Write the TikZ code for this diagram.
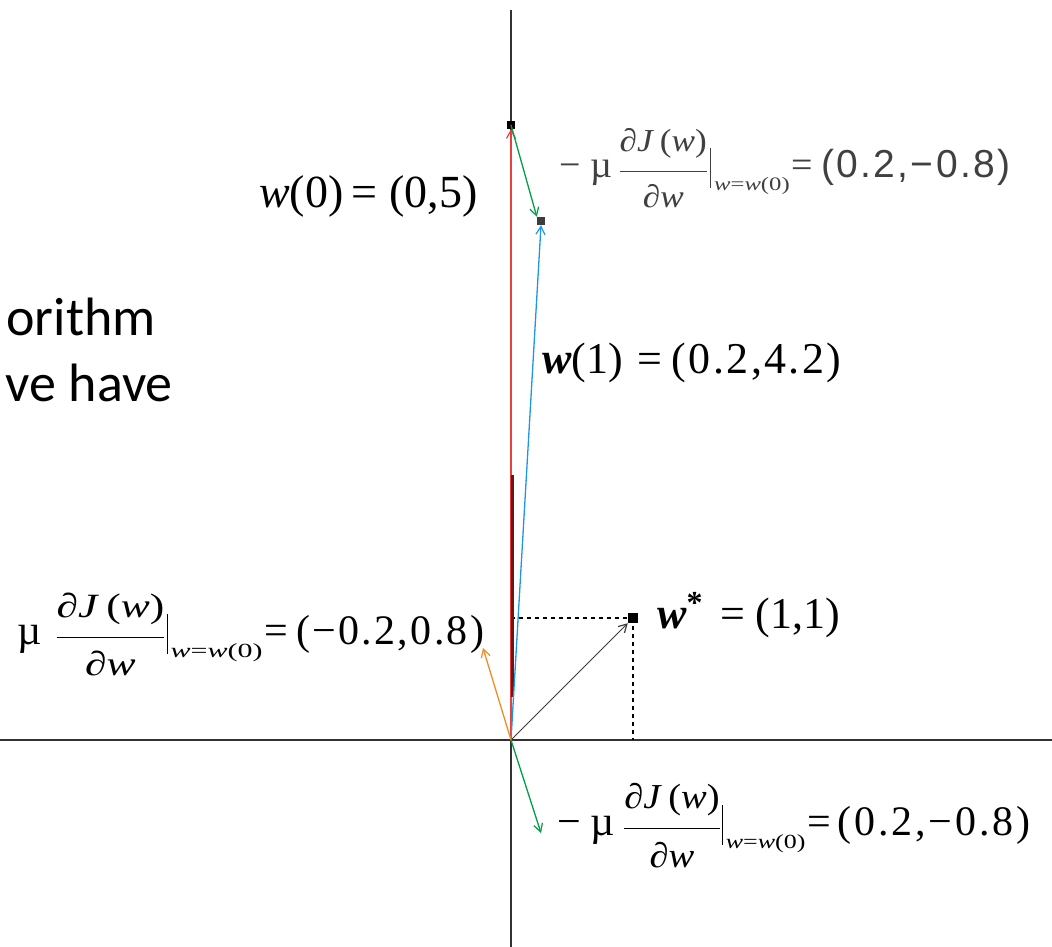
\documentclass[tikz,border=0pt]{standalone}
\usepackage{amsmath}
\usepackage{graphicx}
\usepackage{fontspec}
\setmainfont{Liberation Serif}
\newfontfamily\slidefont{Carlito}
\newfontfamily\thinfont[LetterSpace=6]{Liberation Sans}
\newfontfamily\spacedfont[LetterSpace=5.5]{Liberation Serif}
\newfontfamily\widefont[LetterSpace=7]{Liberation Serif}
\usetikzlibrary{arrows.meta}
\definecolor{axisgray}{RGB}{50,50,50}
\definecolor{vred}{RGB}{232,64,60}
\definecolor{vblue}{RGB}{30,150,230}
\definecolor{vgreen}{RGB}{0,160,70}
\definecolor{vorange}{RGB}{240,140,40}
\definecolor{vdark}{RGB}{60,60,60}
\definecolor{vdeep}{RGB}{110,20,20}
% fraction dJ(w)/dw : #1 font size, #2 horizontal stretch
\newcommand\myfr[2]{\ensuremath{\genfrac{}{}{1pt}{0}%
  {\scalebox{#2}[1]{\fontsize{#1}{#1}\selectfont ∂\textit{J}\,(\textit{w})}\rule[-17pt]{0pt}{1pt}}%
  {\rule{0pt}{#1pt}\scalebox{#2}[1]{\fontsize{#1}{#1}\selectfont ∂\textit{w}}}}}
\newcommand\mybar{\raisebox{-10pt}{\rule{1pt}{40pt}}}
\newcommand\mysub[2]{\raisebox{-13pt}{\scalebox{#2}[1]{\fontsize{#1}{#1}\selectfont\textit{w}=\textit{w}(0)}}}
\tikzset{
  axisline/.style={draw=axisgray, line width=1.6pt},
  vec/.style={line width=1.3pt, -{Straight Barb[length=8pt,width=9pt,line width=1.2pt]}},
  guide/.style={draw=black, line width=1.2pt, dash pattern=on 4pt off 4pt},
  lab/.style={inner sep=0pt, anchor=base west, font=\fontsize{44}{50}\selectfont},
  glab/.style={inner sep=0pt, anchor=base west, font=\fontsize{42}{48}\selectfont},
  slide/.style={inner sep=0pt, font=\slidefont\fontsize{54}{60}\selectfont},
  marker/.style={fill=black, minimum size=9pt, inner sep=0pt}
}
\begin{document}
\begin{tikzpicture}[x=1pt,y=-1pt]
\useasboundingbox (0,0) rectangle (1052,947);
% coordinates
\coordinate (O) at (511,740);
\coordinate (ytop) at (511,10);
\coordinate (ybot) at (511,947);
\coordinate (xl) at (0,740);
\coordinate (xr) at (1052,740);
\coordinate (d1) at (512,475);
\coordinate (d2) at (512,697);
\coordinate (ya) at (511,618);
\coordinate (xa) at (633,740);
\coordinate (go) at (483,648);
\coordinate (gb) at (541,833);
% axes
\draw[axisline] (ytop) -- (ybot);
\draw[axisline] (xl) -- (xr);
% markers
\node[marker, minimum size=8pt] (w0) at (511,125) {};
\node[marker, fill=vdark, minimum size=8pt] (w1) at (541,221) {};
\node[marker, minimum size=10pt] (ws) at (633,618) {};
% dotted guides
\draw[guide] (ya) -- (ws.center);
\draw[guide] (ws.center) -- (xa);
% vectors
\draw[vec, vred] (O) -- (w0.south);
\draw[line width=3pt, vdeep] (d1) -- (d2);
\draw[vec, vblue] (O) -- (w1.south);
\draw[vec, vgreen] (w0.center) -- (w1.north west);
\draw[vec, vdark, line width=1pt] (O) -- (ws.south west);
\draw[vec, vorange] (O) -- (go);
\draw[vec, vgreen] (O) -- (gb);
% slide text
\node[slide, anchor=base east] (t1) at (156,335) {orithm};
\node[slide, anchor=base east] (t2) at (173,401) {ve have};
% point labels
\node[lab, font=\fontsize{46}{50}\selectfont] (lw0) at (259,207)
  {\textit{w}(0)\hspace{8pt}=\hspace{12pt}(0,5)};
\node[lab] (lw1) at (542,373)
  {\textbf{\textit{w}}(1)\hspace{14pt}=\hspace{10pt}{\spacedfont(0.2,4.2)}};
\node[lab] (lws) at (657,628)
  {\textbf{\textit{w}}\raisebox{0.33em}{\fontsize{32}{32}\selectfont\textbf{*}}\hspace{18pt}=\hspace{10pt}(1,1)};
% gradient labels
\node[glab] (gleft) at (17,644)
  {µ\hspace{14pt}\myfr{34}{1.28}\hspace{1pt}\mybar\hspace{3pt}\mysub{20}{1.5}\hspace{2pt}=\hspace{8pt}{\spacedfont(−0.2,0.8)}};
\node[glab] (gbot) at (557,835)
  {−\hspace{10pt}µ\hspace{8pt}\myfr{35}{1.1}\hspace{1pt}\mybar\hspace{3pt}\mysub{20}{1.3}\hspace{2pt}=\hspace{6pt}{\widefont(0.2,−0.8)}};
\node[glab, text=black!75, font=\fontsize{38}{44}\selectfont] (gtop) at (559,178)
  {−\hspace{10pt}µ\hspace{6pt}\myfr{32}{1.1}\hspace{2pt}\mybar\hspace{3pt}\mysub{19}{1.3}\hspace{2pt}=\hspace{8pt}{\thinfont\fontsize{39}{42}\selectfont (0.2,−0.8)}};
\end{tikzpicture}
\end{document}
